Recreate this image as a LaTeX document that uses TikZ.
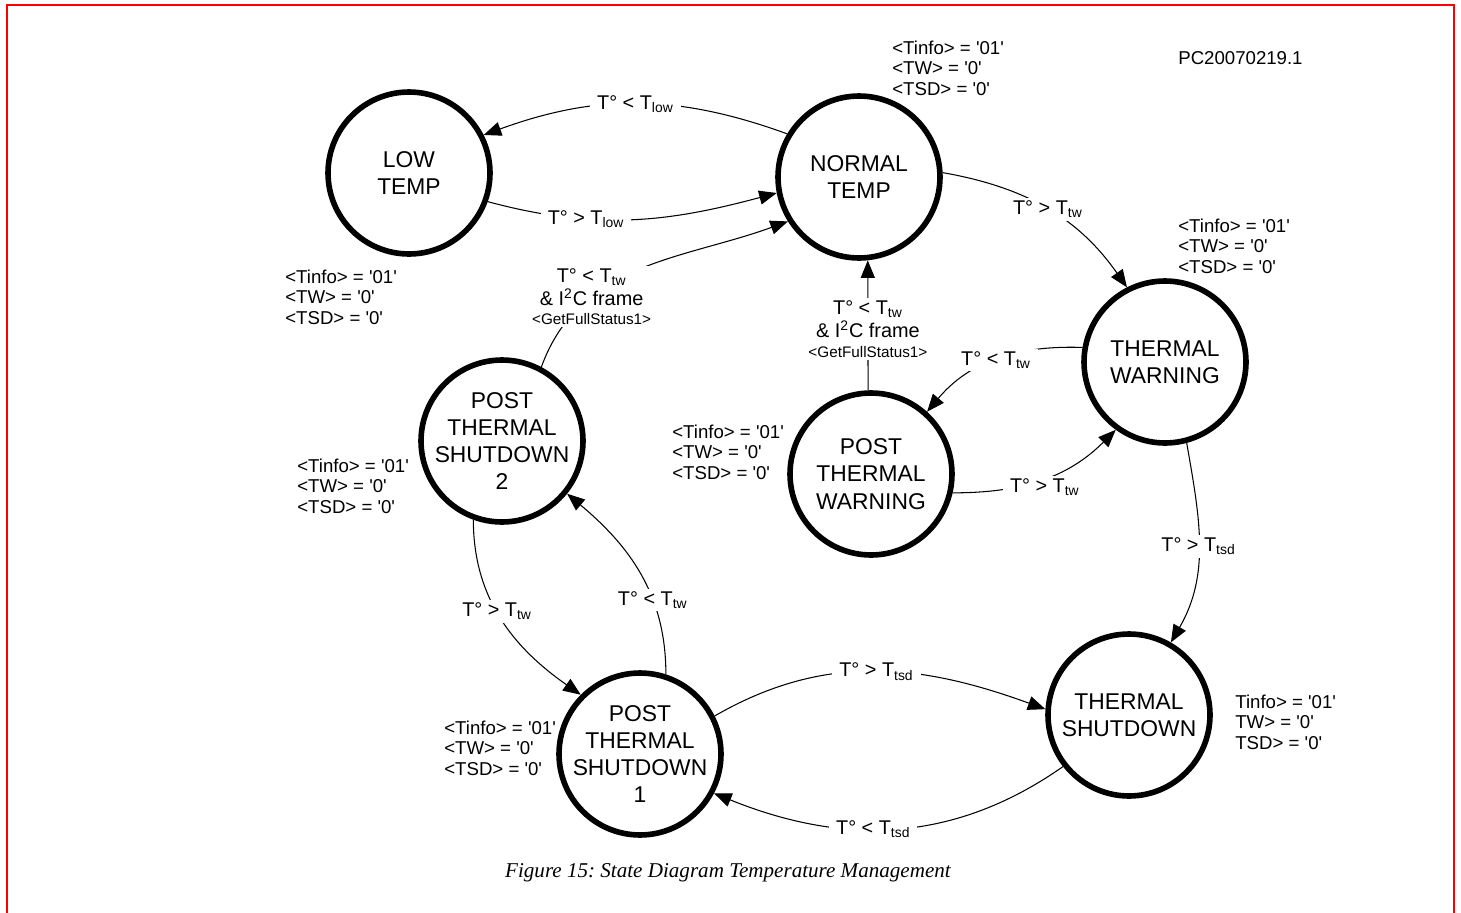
\documentclass[tikz,border=0pt]{standalone}
\usepackage{fontspec}
\setmainfont{Liberation Sans}
\newfontfamily\capfont{Liberation Serif}
\usetikzlibrary{arrows.meta}
\newcommand{\tq}[1]{\textquotesingle#1\textquotesingle}

\begin{document}
\begin{tikzpicture}[x=0.02cm, y=0.02cm,
    statenode/.style={circle, draw, line width=3.2pt, minimum size=3.24cm, inner sep=-6pt, align=center, font=\fontsize{13}{15.5}\selectfont},
    infotext/.style={anchor=base west, align=left, inner sep=0pt, font=\fontsize{10.6}{11.4}\selectfont},
    translabel/.style={fill=white, inner xsep=4pt, inner ysep=1.5pt, align=center, font=\fontsize{11.3}{13}\selectfont},
    transarrow/.style={line width=0.6pt, -{Triangle[length=10pt,width=8pt]}}]
    \useasboundingbox (0,0) rectangle (1461,-913);
    \draw[red, line width=1.2pt] (7,-913) |- (1454,-4.7) -- (1454,-913);

    \node[statenode] (low) at (409,-173) {LOW\\TEMP};
    \node[statenode] (normal) at (859,-177) {NORMAL\\TEMP};
    \node[statenode] (warn) at (1165,-362) {THERMAL\\WARNING};
    \node[statenode] (ptw) at (871,-474) {POST\\THERMAL\\WARNING};
    \node[statenode] (pts2) at (502,-441) {POST\\THERMAL\\SHUTDOWN\\2};
    \node[statenode] (pts1) at (640,-754) {POST\\THERMAL\\SHUTDOWN\\1};
    \node[statenode] (tsd) at (1129,-715) {THERMAL\\SHUTDOWN};

    \node[infotext] (normalinfo) at (892,-95) {<Tinfo> = \tq{01}\\<TW> = \tq{0}\\<TSD> = \tq{0}};
    \node[infotext] (lowinfo) at (285,-324) {<Tinfo> = \tq{01}\\<TW> = \tq{0}\\<TSD> = \tq{0}};
    \node[infotext] (warninfo) at (1178,-273) {<Tinfo> = \tq{01}\\<TW> = \tq{0}\\<TSD> = \tq{0}};
    \node[infotext] (ptwinfo) at (672,-479) {<Tinfo> = \tq{01}\\<TW> = \tq{0}\\<TSD> = \tq{0}};
    \node[infotext] (pts2info) at (297,-513) {<Tinfo> = \tq{01}\\<TW> = \tq{0}\\<TSD> = \tq{0}};
    \node[infotext] (pts1info) at (444,-775) {<Tinfo> = \tq{01}\\<TW> = \tq{0}\\<TSD> = \tq{0}};
    \node[infotext] (tsdinfo) at (1235,-749) {Tinfo> = \tq{01}\\TW> = \tq{0}\\TSD> = \tq{0}};
    \node[infotext] (docref) at (1178,-64) {PC20070219.1};

    \draw[transarrow] (normal.149) to[out=160, in=20] node[translabel] {T° < T\textsubscript{low}} (low.27);
    \draw[transarrow] (low.-20) to[out=-15, in=195] node[translabel, pos=0.33] {T° > T\textsubscript{low}} (normal.191);
    \draw[transarrow] (pts2.62) to[out=70, in=200] node[translabel, pos=0.3] {T° < T\textsubscript{tw}\\\& I\textsuperscript{2}C frame\\[-2pt]{\fontsize{8.7}{10}\selectfont <GetFullStatus1>}} (normal.212);
    \draw[transarrow] (ptw.92) -- node[translabel, pos=0.47] {T° < T\textsubscript{tw}\\\& I\textsuperscript{2}C frame\\[-2pt]{\fontsize{8.7}{10}\selectfont <GetFullStatus1>}} (normal.-84);
    \draw[transarrow] (normal.3) to[out=-10, in=125] node[translabel] {T° > T\textsubscript{tw}} (warn.117);
    \draw[transarrow] (warn.170) to[out=178, in=50] node[translabel] {T° < T\textsubscript{tw}} (ptw.48);
    \draw[transarrow] (ptw.-13) to[out=0, in=225] node[translabel, pos=0.52, yshift=-5pt] {T° > T\textsubscript{tw}} (warn.234);
    \draw[transarrow] (warn.-75) to[out=-80, in=60] node[translabel] {T° > T\textsubscript{tsd}} (tsd.60);
    \draw[transarrow] (tsd.218) to[out=215, in=-22] node[translabel, pos=0.56] {T° < T\textsubscript{tsd}} (pts1.-28);
    \draw[transarrow] (pts1.27) to[out=30, in=160] node[translabel] {T° > T\textsubscript{tsd}} (tsd.176);
    \draw[transarrow] (pts1.72) to[out=90, in=-40] node[translabel, pos=0.35] {T° < T\textsubscript{tw}} (pts2.-39);
    \draw[transarrow] (pts2.250) to[out=-90, in=145] node[translabel, pos=0.45] {T° > T\textsubscript{tw}} (pts1.135);

    \node[font=\capfont\itshape\fontsize{12}{14}\selectfont] (caption) at (728,-873) {Figure 15:\ State Diagram Temperature Management};
\end{tikzpicture}
\end{document}
